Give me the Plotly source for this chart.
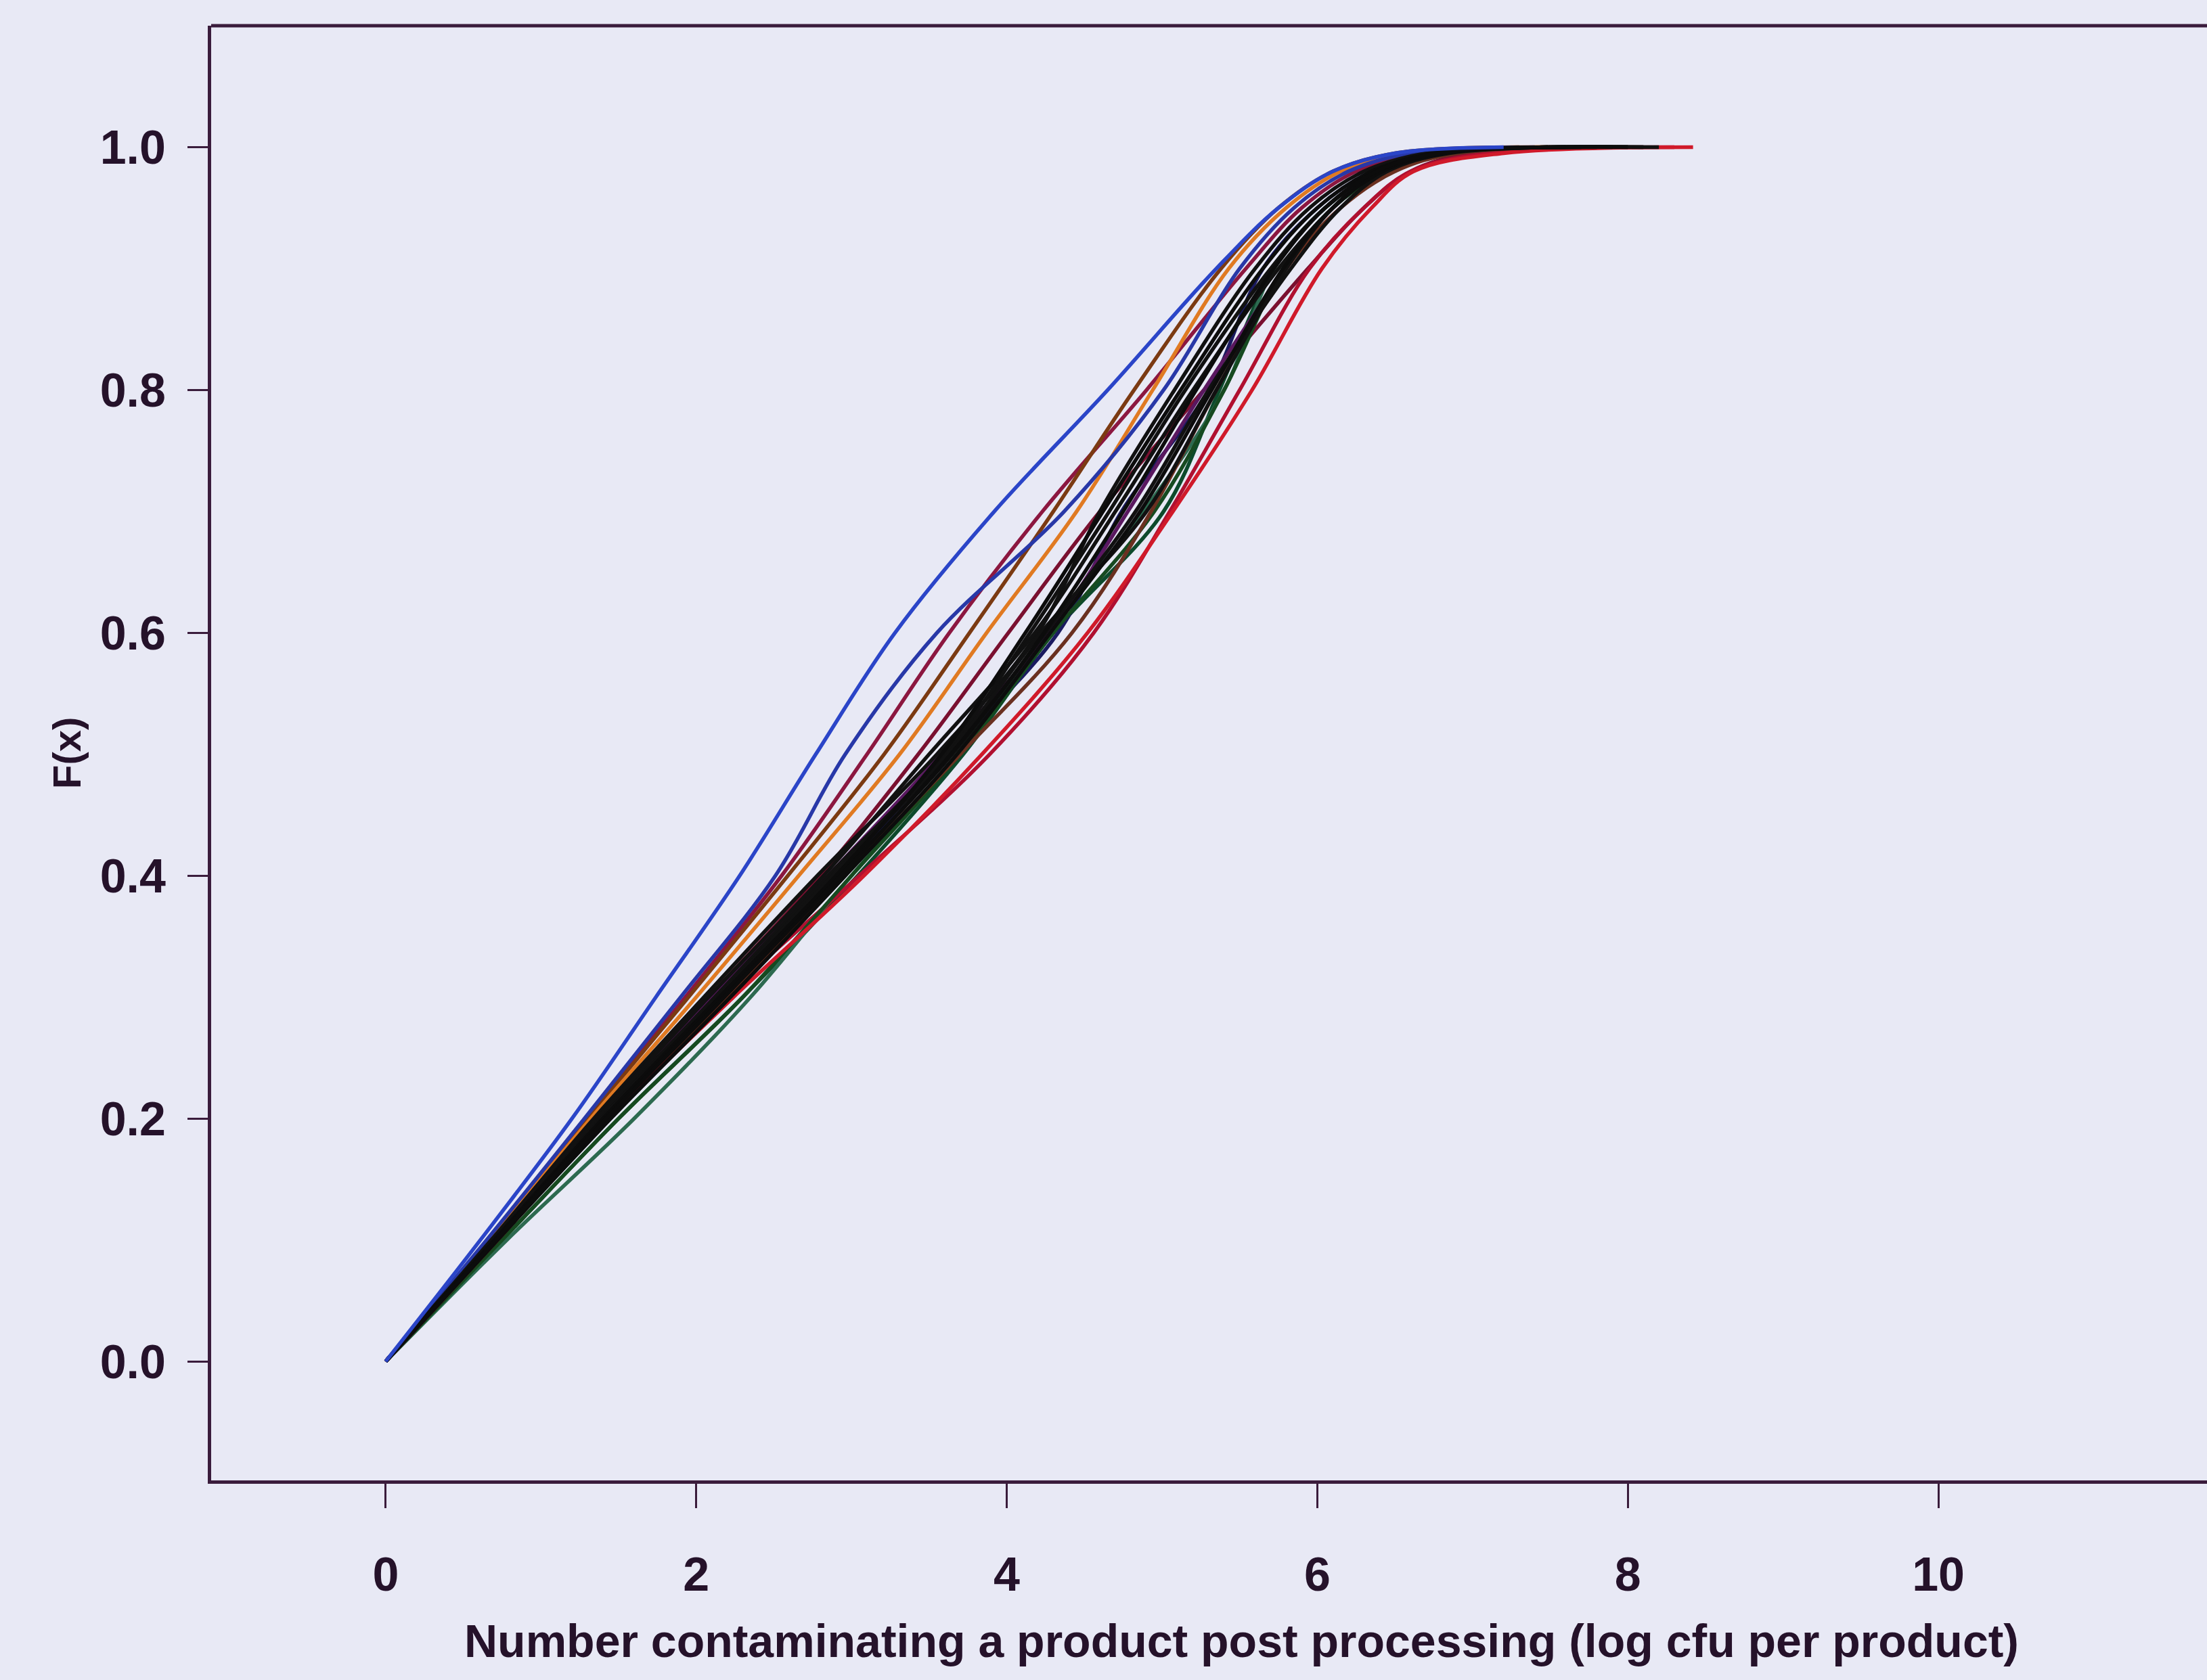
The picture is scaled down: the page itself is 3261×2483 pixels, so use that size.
import plotly.graph_objects as go

# Cumulative probability levels at which each simulated curve is tabulated
F_LEVELS = [0, 0.1, 0.2, 0.3, 0.4, 0.5, 0.6, 0.7, 0.8, 0.9, 0.95, 0.98, 0.995, 1.0]

# log cfu per product reached by each simulation run at the levels above
run_colors = [
    "#8c1740", "#7b3a12", "#e07a22", "#7a1030", "#0d4a2c", "#2d6a50",
    "#1a1a60", "#5a1860", "#b01030", "#164a20", "#6a3020", "#d01a2a",
    "#2838a8", "#111111", "#111111", "#111111", "#111111", "#111111",
    "#0c0c0c", "#0c0c0c", "#0c0c0c", "#2b45c8",
]
run_values = [
    [0, 0.66, 1.30, 1.93, 2.55, 3.10, 3.63, 4.23, 4.90, 5.54, 5.90, 6.25, 6.70, 7.6],
    [0, 0.66, 1.30, 1.95, 2.59, 3.21, 3.76, 4.30, 4.82, 5.38, 5.75, 6.10, 6.50, 7.3],
    [0, 0.67, 1.32, 2.00, 2.66, 3.31, 3.87, 4.45, 4.94, 5.43, 5.80, 6.15, 6.55, 7.7],
    [0, 0.69, 1.35, 2.08, 2.80, 3.43, 4.01, 4.60, 5.27, 5.94, 6.30, 6.60, 7.00, 8.0],
    [0, 0.75, 1.50, 2.30, 3.04, 3.72, 4.30, 5.01, 5.37, 5.72, 6.05, 6.40, 6.80, 8.0],
    [0, 0.78, 1.60, 2.35, 3.00, 3.68, 4.25, 4.88, 5.40, 5.72, 6.05, 6.40, 6.80, 7.9],
    [0, 0.71, 1.40, 2.15, 2.90, 3.62, 4.33, 4.74, 5.30, 5.65, 6.00, 6.35, 6.75, 7.6],
    [0, 0.70, 1.38, 2.10, 2.85, 3.58, 4.27, 4.78, 5.27, 5.80, 6.10, 6.45, 6.85, 7.8],
    [0, 0.71, 1.40, 2.18, 3.05, 3.89, 4.56, 5.05, 5.50, 5.95, 6.30, 6.60, 7.10, 8.3],
    [0, 0.75, 1.50, 2.30, 3.00, 3.70, 4.30, 4.95, 5.40, 5.78, 6.10, 6.45, 6.85, 8.0],
    [0, 0.72, 1.42, 2.20, 2.95, 3.70, 4.42, 4.93, 5.35, 5.80, 6.15, 6.50, 6.90, 8.1],
    [0, 0.72, 1.44, 2.24, 3.08, 3.84, 4.52, 5.07, 5.58, 6.03, 6.35, 6.62, 7.20, 8.42],
    [0, 0.65, 1.28, 1.90, 2.51, 2.96, 3.55, 4.37, 5.01, 5.50, 5.85, 6.20, 6.60, 7.4],
    [0, 0.68, 1.34, 2.05, 2.78, 3.55, 4.20, 4.60, 5.08, 5.60, 5.95, 6.30, 6.70, 7.5],
    [0, 0.70, 1.38, 2.12, 2.85, 3.60, 4.15, 4.66, 5.15, 5.70, 6.05, 6.40, 6.80, 7.8],
    [0, 0.72, 1.42, 2.18, 2.92, 3.65, 4.25, 4.83, 5.30, 5.83, 6.15, 6.45, 6.85, 8.1],
    [0, 0.69, 1.36, 2.08, 2.82, 3.50, 4.18, 4.70, 5.20, 5.75, 6.10, 6.40, 6.80, 7.7],
    [0, 0.70, 1.39, 2.14, 2.88, 3.62, 4.22, 4.90, 5.35, 5.80, 6.10, 6.40, 6.80, 8.2],
    [0, 0.70, 1.40, 2.15, 2.90, 3.58, 4.12, 4.62, 5.12, 5.65, 6.00, 6.35, 6.75, 7.6],
    [0, 0.72, 1.45, 2.22, 2.96, 3.68, 4.28, 4.86, 5.32, 5.78, 6.10, 6.42, 6.82, 8.0],
    [0, 0.71, 1.42, 2.18, 2.93, 3.64, 4.24, 4.75, 5.22, 5.72, 6.05, 6.38, 6.78, 7.9],
    [0, 0.61, 1.20, 1.74, 2.28, 2.77, 3.28, 3.92, 4.65, 5.35, 5.75, 6.10, 6.50, 7.2],
]

x_ticks = [0, 2, 4, 6, 8, 10]
y_ticks = [0.0, 0.2, 0.4, 0.6, 0.8, 1.0]
y_tick_text = ["0.0", "0.2", "0.4", "0.6", "0.8", "1.0"]

BG = "#e8e9f5"
INK = "#3a1c3c"
TEXT = "#25122a"
FONT = "Liberation Sans"

fig = go.Figure()
for xs, col in zip(run_values, run_colors):
    fig.add_trace(go.Scatter(
        x=xs, y=F_LEVELS, mode="lines",
        line=dict(color=col, width=5.5, shape="spline", smoothing=1.0),
        showlegend=False, hoverinfo="skip",
    ))

W, H = 3261, 2483
L, R, T, B = 312, 0, 38, 295

fig.update_layout(
    width=W, height=H,
    margin=dict(l=L, r=R, t=T, b=B),
    paper_bgcolor=BG, plot_bgcolor=BG,
    font=dict(family=FONT, color=TEXT),
    xaxis=dict(
        range=[-1.124, 11.73], tickvals=x_ticks, ticks="outside",
        ticklen=36, tickwidth=3, tickcolor=INK,
        showline=True, linecolor=INK, linewidth=5, mirror=False,
        showgrid=False, zeroline=False,
        tickfont=dict(size=70, family=FONT, color=TEXT, weight="bold"),
        ticklabelstandoff=38,
    ),
    yaxis=dict(
        range=[-0.098, 1.10], tickvals=y_ticks, ticktext=y_tick_text,
        ticks="outside", ticklen=30, tickwidth=3, tickcolor=INK,
        showline=True, linecolor=INK, linewidth=5, mirror=False,
        showgrid=False, zeroline=False,
        tickfont=dict(size=70, family=FONT, color=TEXT, weight="bold"),
        ticklabelstandoff=18,
    ),
    shapes=[dict(type="line", xref="paper", yref="paper", x0=0, x1=1, y0=1, y1=1,
                 line=dict(color=INK, width=5))],
    annotations=[
        dict(text="Number contaminating a product post processing (log cfu per product)",
             xref="paper", yref="paper", x=0.5164, y=-0.110,
             xanchor="center", yanchor="middle", showarrow=False,
             font=dict(size=68, family=FONT, color=TEXT, weight="bold")),
        dict(text="F(x)", xref="paper", yref="paper", x=-0.0726, y=0.5,
             xanchor="center", yanchor="middle", showarrow=False, textangle=-90,
             font=dict(size=58, family=FONT, color=TEXT, weight="bold")),
    ],
)

fig.write_html("out.html")
